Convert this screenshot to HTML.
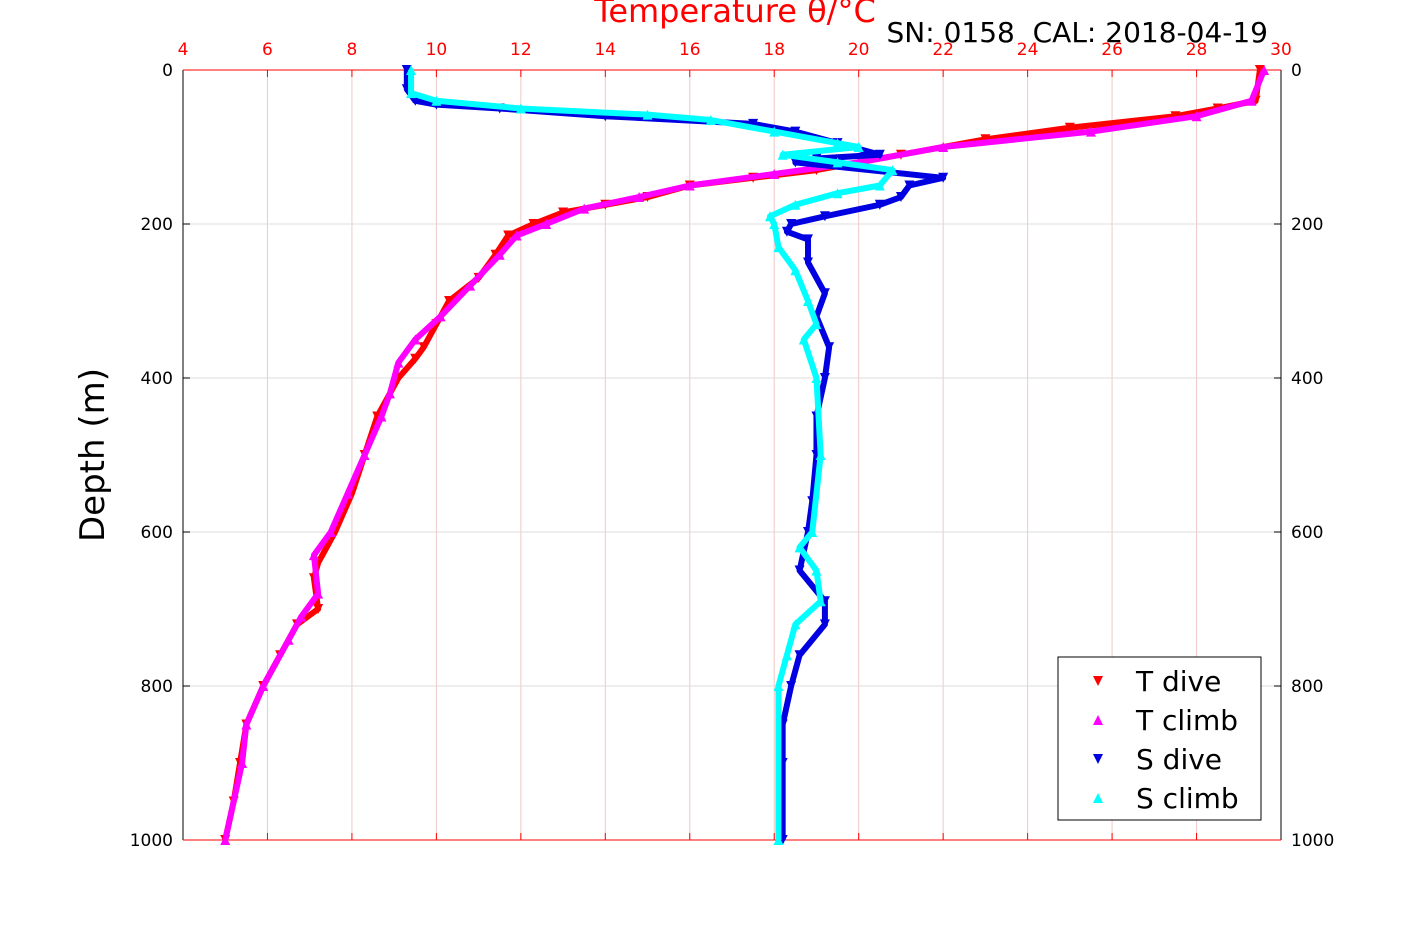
<!DOCTYPE html>
<html><head><meta charset="utf-8"><style>
body{margin:0;background:#fff}
svg text{font-family:"DejaVu Sans","Liberation Sans",sans-serif;white-space:pre}
</style></head><body>
<svg id="c" width="1417" height="945"></svg>
<script>
const xTicks=[4,6,8,10,12,14,16,18,20,22,24,26,28,30];
const yTicks=[0,200,400,600,800,1000];
const tDiveDepth=[0,40,50,60,75,90,110,130,140,150,165,175,185,200,215,240,270,300,330,360,375,400,450,500,550,600,640,660,700,720,760,800,850,900,950,1000];
const tDiveVal=[29.5,29.4,28.5,27.5,25,23,21,19,17.5,16,15,14,13,12.3,11.7,11.4,11,10.3,10,9.7,9.5,9.1,8.6,8.3,8,7.6,7.2,7.1,7.2,6.7,6.3,5.9,5.5,5.35,5.2,5.0];
const tClimbDepth=[0,40,60,80,100,120,135,150,165,180,200,215,240,280,320,350,380,420,450,500,550,600,630,680,710,740,800,850,900,1000];
const tClimbVal=[29.6,29.3,28,25.5,22,20,18,16,14.8,13.5,12.6,11.9,11.5,10.8,10.1,9.5,9.1,8.9,8.7,8.3,7.9,7.5,7.1,7.2,6.8,6.5,5.9,5.5,5.4,5.0];
const sDiveDepth=[0,25,40,45,50,60,70,80,95,110,115,120,140,150,165,175,190,200,210,220,250,290,320,360,400,450,500,560,600,650,690,720,760,800,850,900,1000];
const sDiveVal=[9.3,9.3,9.5,10,11.5,14,17.5,18.5,19.5,20.5,19,18.5,22,21.2,21,20.5,19.2,18.4,18.3,18.8,18.8,19.2,19,19.3,19.2,19,19,18.9,18.8,18.6,19.2,19.2,18.6,18.4,18.2,18.2,18.2];
const sClimbDepth=[0,30,40,50,58,65,80,95,100,110,120,130,150,160,175,190,200,230,260,300,330,350,400,500,600,620,650,690,720,760,800,1000];
const sClimbVal=[9.4,9.4,10,12,15,16.5,18,19.5,20,18.2,19.5,20.8,20.5,19.5,18.5,17.9,18,18.1,18.5,18.8,19,18.7,19,19.1,18.9,18.6,19,19.1,18.5,18.3,18.1,18.1];

const L=183,R=1281,T=70,B=840;
const X=v=>L+(v-4)*(R-L)/26, Y=d=>T+d*(B-T)/1000;
const svg=document.getElementById('c');const NS='http://www.w3.org/2000/svg';
function mk(tag,at,txt){const e=document.createElementNS(NS,tag);for(const k in at)e.setAttribute(k,at[k]);if(txt!==undefined)e.textContent=txt;svg.appendChild(e);return e;}
xTicks.forEach(v=>{
 const g=mk('line',{x1:X(v),x2:X(v),y1:T,y2:B,stroke:'#f0c8c8','stroke-width':1});
 
 
 mk('line',{x1:X(v),x2:X(v),y1:T,y2:T+7,stroke:'red'});
 mk('line',{x1:X(v),x2:X(v),y1:B,y2:B-7,stroke:'red'});
 const t=mk('text',{x:X(v),y:55,'text-anchor':'middle','font-size':17,fill:'red'},v);
 
 
});
yTicks.forEach(d=>{
 if(d>0&&d<1000){const g=mk('line',{x1:L,x2:R,y1:Y(d),y2:Y(d),stroke:'#dcdcdc'});
 
 }
 mk('line',{x1:L,x2:L+7,y1:Y(d),y2:Y(d),stroke:'#000'});
 mk('line',{x1:R,x2:R-7,y1:Y(d),y2:Y(d),stroke:'#000'});
 const a=mk('text',{x:L-10,y:Y(d)+6,'text-anchor':'end','font-size':17},d);
 
 
 const b=mk('text',{x:R+10,y:Y(d)+6,'text-anchor':'start','font-size':17},d);
 
 
});
mk('line',{x1:L,x2:L,y1:T,y2:B,stroke:'#000'});
mk('line',{x1:R,x2:R,y1:T,y2:B,stroke:'#000'});
mk('line',{x1:L,x2:R,y1:T,y2:T,stroke:'red'});
mk('line',{x1:L,x2:R,y1:B,y2:B,stroke:'red'});
function series(depths,vals,color,down,name){
 const pts=depths.map((d,i)=>X(vals[i])+','+Y(d)).join(' ');
 const p=mk('polyline',{points:pts,fill:'none',stroke:color,'stroke-width':6,'stroke-linejoin':'round'});
 
 
 depths.forEach((d,i)=>{const x=X(vals[i]),y=Y(d),s=5;
  const pt=down?`${x-s},${y-s} ${x+s},${y-s} ${x},${y+s}`:`${x-s},${y+s} ${x+s},${y+s} ${x},${y-s}`;
  const m=mk('polygon',{points:pt,fill:color});
  
  });
}
series(tDiveDepth,tDiveVal,'red',true,'t-dive');
series(tClimbDepth,tClimbVal,'magenta',false,'t-climb');
series(sDiveDepth,sDiveVal,'#0000e0',true,'s-dive');
series(sClimbDepth,sClimbVal,'cyan',false,'s-climb');
const ttl=mk('text',{x:735,y:22,'text-anchor':'middle','font-size':32,fill:'red'},'Temperature θ/°C');


const sn=mk('text',{x:1268,y:42,'text-anchor':'end','font-size':28},'SN: 0158  CAL: 2018-04-19');


const yl=mk('text',{x:0,y:0,transform:'translate(104,455) rotate(-90)','text-anchor':'middle','font-size':34},'Depth (m)');


const lg=mk('rect',{x:1058,y:657,width:203,height:163,fill:'#fff',stroke:'#000'});


[['T dive','red',true],['T climb','magenta',false],['S dive','#0000e0',true],['S climb','cyan',false]].forEach((e,i)=>{
 const y=681+i*39,x=1098,s=5;
 mk('polygon',{points:e[2]?`${x-s},${y-s} ${x+s},${y-s} ${x},${y+s}`:`${x-s},${y+s} ${x+s},${y+s} ${x},${y-s}`,fill:e[1]});
 const t=mk('text',{x:1136,y:y+10,'font-size':28},e[0]);
 
 
});
</script>
</body></html>
